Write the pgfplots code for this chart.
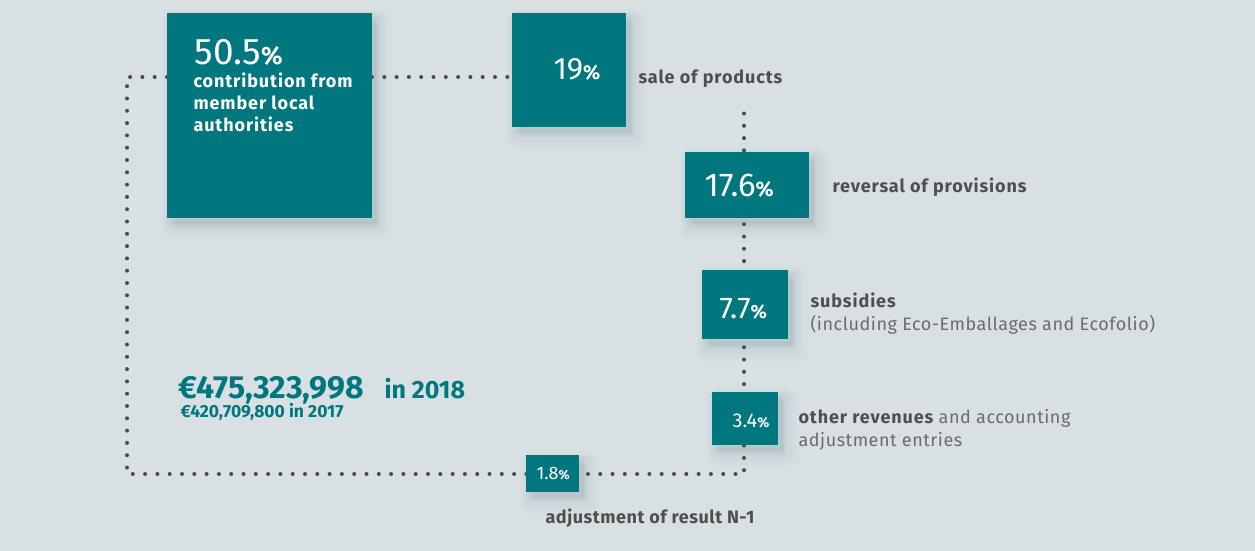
\documentclass[border=0pt]{standalone}
\usepackage{pgfplots}
\pgfplotsset{compat=1.18}
\usepackage{fontspec}
\setmainfont{Fira Sans}

\definecolor{bg}{HTML}{D8E0E3}
\definecolor{boxcol}{HTML}{00767F}
\definecolor{txt}{HTML}{4F4F4F}
\definecolor{lighttxt}{HTML}{6B6B6B}
\definecolor{dotcol}{HTML}{4A4A4A}
\definecolor{shadowcol}{HTML}{5E7F88}

\newcommand{\fs}[1]{\fontsize{#1}{#1}\selectfont}
\newcommand{\wide}{\addfontfeatures{LetterSpace=5}}
% box: x1 y1 x2 y2 (pixels, y downwards)
\newcommand{\rect}[4]{%
  \addplot[fill=boxcol, draw=none] coordinates {(#1,#2) (#3,#2) (#3,#4) (#1,#4)} -- cycle;}
\newcommand{\shadow}[4]{%
  \addplot[fill=shadowcol, draw=shadowcol, opacity=0.035, line width=4pt, line join=round, shift={(4pt,-5pt)}] coordinates {(#1,#2) (#3,#2) (#3,#4) (#1,#4)} -- cycle;
  \addplot[fill=shadowcol, draw=shadowcol, opacity=0.035, line width=10pt, line join=round, shift={(5pt,-6pt)}] coordinates {(#1,#2) (#3,#2) (#3,#4) (#1,#4)} -- cycle;
  \addplot[fill=shadowcol, draw=shadowcol, opacity=0.03, line width=16pt, line join=round, shift={(6pt,-8pt)}] coordinates {(#1,#2) (#3,#2) (#3,#4) (#1,#4)} -- cycle;
  \addplot[fill=shadowcol, draw=shadowcol, opacity=0.025, line width=22pt, line join=round, shift={(7pt,-9pt)}] coordinates {(#1,#2) (#3,#2) (#3,#4) (#1,#4)} -- cycle;
  \addplot[fill=shadowcol, draw=shadowcol, opacity=0.02, line width=28pt, line join=round, shift={(8pt,-10pt)}] coordinates {(#1,#2) (#3,#2) (#3,#4) (#1,#4)} -- cycle;}

\begin{document}
\begin{tikzpicture}
\begin{axis}[
  x=1pt, y=1pt,
  xmin=0, xmax=1255, ymin=0, ymax=551, y dir=reverse,
  axis line style={draw=none}, ticks=none, clip=false,
  axis background/.style={fill=bg},
  dots/.style={dotcol, line width=4pt, line cap=round, dash pattern=on 0pt off 12.3pt},
]
% connecting dotted lines
\addplot[dots] coordinates {(167,77) (127,77) (127,474) (744,474) (744,105)};
\addplot[dots] coordinates {(372,77) (512,77)};

% soft shadows
\shadow{167}{13}{372}{218}
\shadow{512}{13}{626}{127}
\shadow{685}{152}{809}{218}
\shadow{702}{270}{788}{339}
\shadow{712}{392}{778}{445}
\shadow{526}{455}{579}{492}

% boxes
\rect{167}{13}{372}{218}
\rect{512}{13}{626}{127}
\rect{685}{152}{809}{218}
\rect{702}{270}{788}{339}
\rect{712}{392}{778}{445}
\rect{526}{455}{579}{492}

% box texts
\node[anchor=base west, white, font=\fs{37}] at (axis cs:191,65) {50.5{\fs{25}\bfseries\%}};
\node[anchor=base west, white, font=\fs{18}\bfseries\wide] at (axis cs:190,87) {contribution from};
\node[anchor=base west, white, font=\fs{18}\bfseries\wide] at (axis cs:190,109) {member local};
\node[anchor=base west, white, font=\fs{18}\bfseries\wide] at (axis cs:190,131) {authorities};
\node[anchor=base west, white, font=\fs{31}] at (axis cs:550,80) {19{\fs{20}\bfseries\%}};
\node[anchor=base west, white, font=\fs{33}] at (axis cs:701,196) {17.6{\fs{21}\bfseries\%}};
\node[anchor=base west, white, font=\fs{30}] at (axis cs:716,318) {7.7{\fs{19}\bfseries\%}};
\node[anchor=base west, white, font=\fs{20}] at (axis cs:729,427) {3.4{\fs{14}\bfseries\%}};
\node[anchor=base west, white, font=\fs{18}] at (axis cs:533,479) {1.8{\fs{13}\bfseries\%}};

% labels
\node[anchor=base west, txt, font=\fs{18}\bfseries\wide] at (axis cs:635,83) {sale of products};
\node[anchor=base west, txt, font=\fs{18}\bfseries\wide] at (axis cs:829,192) {reversal of provisions};
\node[anchor=base west, txt, font=\fs{18}\bfseries\wide] at (axis cs:807,307) {subsidies};
\node[anchor=base west, lighttxt, font=\fs{18}\addfontfeatures{LetterSpace=3}] at (axis cs:807,330) {(including Eco-Emballages and Ecofolio)};
\node[anchor=base west, lighttxt, font=\fs{18}\addfontfeatures{LetterSpace=3}] at (axis cs:795,423) {{\color{txt}\bfseries\wide other revenues} and accounting};
\node[anchor=base west, lighttxt, font=\fs{18}\addfontfeatures{LetterSpace=3}] at (axis cs:795,446) {adjustment entries};
\node[anchor=base west, txt, font=\fs{18}\bfseries\addfontfeatures{LetterSpace=3}] at (axis cs:542,523) {adjustment of result N-1};

% totals
\node[anchor=base west, boxcol, font=\fs{32}\bfseries, inner ysep=1pt] at (axis cs:175,398) {€475,323,998};
\node[anchor=base west, boxcol, font=\fs{25}\bfseries, inner ysep=1pt] at (axis cs:381,398) {in 2018};
\node[anchor=base west, boxcol, font=\fs{17.5}\bfseries, inner ysep=1pt] at (axis cs:177,417) {€420,709,800 in 2017};
\end{axis}
\end{tikzpicture}
\end{document}
